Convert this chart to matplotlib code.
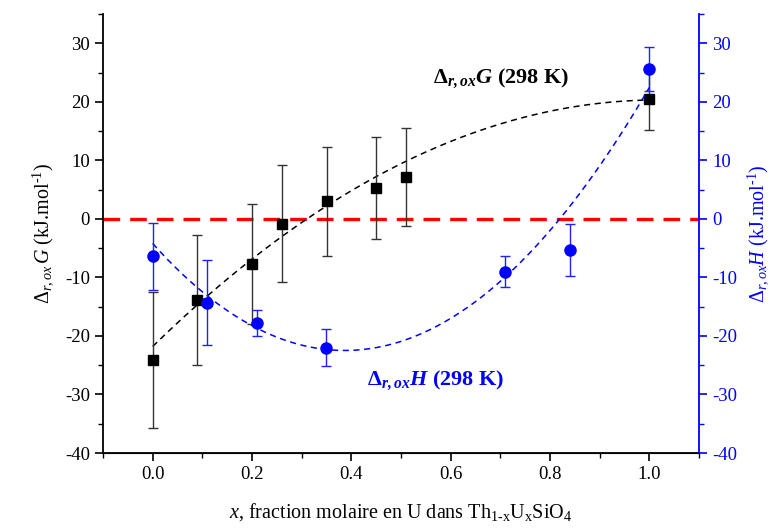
import numpy as np
import matplotlib
matplotlib.use("Agg")
import matplotlib.pyplot as plt
from matplotlib.ticker import MultipleLocator

plt.rcParams['font.family'] = ['Liberation Serif', 'DejaVu Serif']
plt.rcParams['mathtext.fontset'] = 'custom'
plt.rcParams['mathtext.rm'] = 'Liberation Serif'
plt.rcParams['mathtext.it'] = 'Liberation Serif:italic'
plt.rcParams['mathtext.bf'] = 'Liberation Serif:bold'
plt.rcParams['mathtext.bfit'] = 'Liberation Serif:bold:italic'
plt.rcParams['axes.unicode_minus'] = False

# Data: Delta_r,ox G (black squares)
x_G = [0.0, 0.09, 0.20, 0.26, 0.35, 0.45, 0.51, 1.0]
G = [-24.1, -13.8, -7.7, -0.8, 3.0, 5.3, 7.2, 20.5]
G_err = [11.6, 11.1, 10.2, 10.0, 9.3, 8.7, 8.4, 5.3]

# Data: Delta_r,ox H (blue circles)
x_H = [0.0, 0.11, 0.21, 0.35, 0.71, 0.84, 1.0]
H = [-6.4, -14.3, -17.8, -22.0, -9.0, -5.3, 25.6]
H_err = [5.7, 7.2, 2.2, 3.1, 2.6, 4.4, 3.8]

# Fit coefficients (polynomial, highest degree first)
G_fit = [-40.7, 82.8, -21.8]
H_fit = [-2.86, 124.5, -95.0, -4.2]

fig = plt.figure(figsize=(7.76, 5.29), dpi=100)
ax = fig.add_axes([103/776, 1 - 453/529, (699 - 103)/776, (453 - 14)/529])
ax2 = ax.twinx()

xs = np.linspace(0, 1, 200)
ax.axhline(0, color='#ff0000', lw=2.4, dashes=(5, 3), zorder=1)
ax.plot(xs, np.polyval(G_fit, xs), color='black', lw=1.1, dashes=(4, 3), zorder=2)
ax.errorbar(x_G, G, yerr=G_err, fmt='s', color='black', ms=7, ecolor='#333333',
            elinewidth=1.0, capsize=3.5, capthick=1.0, zorder=4)

ax2.plot(xs, np.polyval(H_fit, xs), color='#0000ff', lw=1.1, dashes=(4, 3), zorder=2)
ax2.errorbar(x_H, H, yerr=H_err, fmt='o', color='#0000ff', ms=8, ecolor='#2020ff',
             elinewidth=1.0, capsize=3.5, capthick=1.0, zorder=4)

for a in (ax, ax2):
    a.set_xlim(-0.1, 1.1)
    a.set_ylim(-40, 35)
    a.yaxis.set_major_locator(MultipleLocator(10))
    a.yaxis.set_minor_locator(MultipleLocator(5))
    a.spines['top'].set_visible(False)
ax.xaxis.set_minor_locator(MultipleLocator(0.1))
ax.set_xticks([0.0, 0.2, 0.4, 0.6, 0.8, 1.0])
ax.set_xticklabels(['0.0', '0.2', '0.4', '0.6', '0.8', '1.0'])

ax.spines['right'].set_visible(False)
ax2.spines['left'].set_visible(False)
ax2.spines['right'].set_color('#0000ff')
ax2.spines['right'].set_linewidth(1.3)
for s in ('left', 'bottom'):
    ax.spines[s].set_linewidth(1.3)

ax.tick_params(axis='both', which='major', direction='out', length=6, width=1.2,
               labelsize=13.5)
ax.tick_params(axis='both', which='minor', direction='out', length=3.5, width=1.0)
ax2.tick_params(axis='y', which='major', direction='out', length=6, width=1.2,
                labelsize=13.5, colors='#0000ff')
ax2.tick_params(axis='y', which='minor', direction='out', length=3.5, width=1.0,
                colors='#0000ff')

ax.set_xlabel(r'$x$, fraction molaire en U dans Th$_{\mathrm{1\text{-}x}}$U$_{\mathrm{x}}$SiO$_{\mathrm{4}}$',
              fontsize=14.5, labelpad=13)
ax.set_ylabel(r'$\Delta_{r,ox}\,G$ (kJ.mol$^{\mathrm{\text{-}1}}$)', fontsize=14.5, labelpad=6)
ax2.set_ylabel(r'$\Delta_{r,ox}H$ (kJ.mol$^{\mathrm{\text{-}1}}$)', fontsize=14.5, color='#0000ff',
               rotation=90, labelpad=6)

ax.text(0.565, 24.0, r'$\mathbf{\Delta}_{\mathbfit{r,ox}}\mathbfit{G}$ (298 K)',
        fontsize=16, fontweight='bold', color='black', va='center', ha='left')
ax2.text(0.432, -27.6, r'$\mathbf{\Delta}_{\mathbfit{r,ox}}\mathbfit{H}$ (298 K)',
         fontsize=16, fontweight='bold', color='#0000ff', va='center', ha='left')

fig.savefig('out.png', dpi=100)
